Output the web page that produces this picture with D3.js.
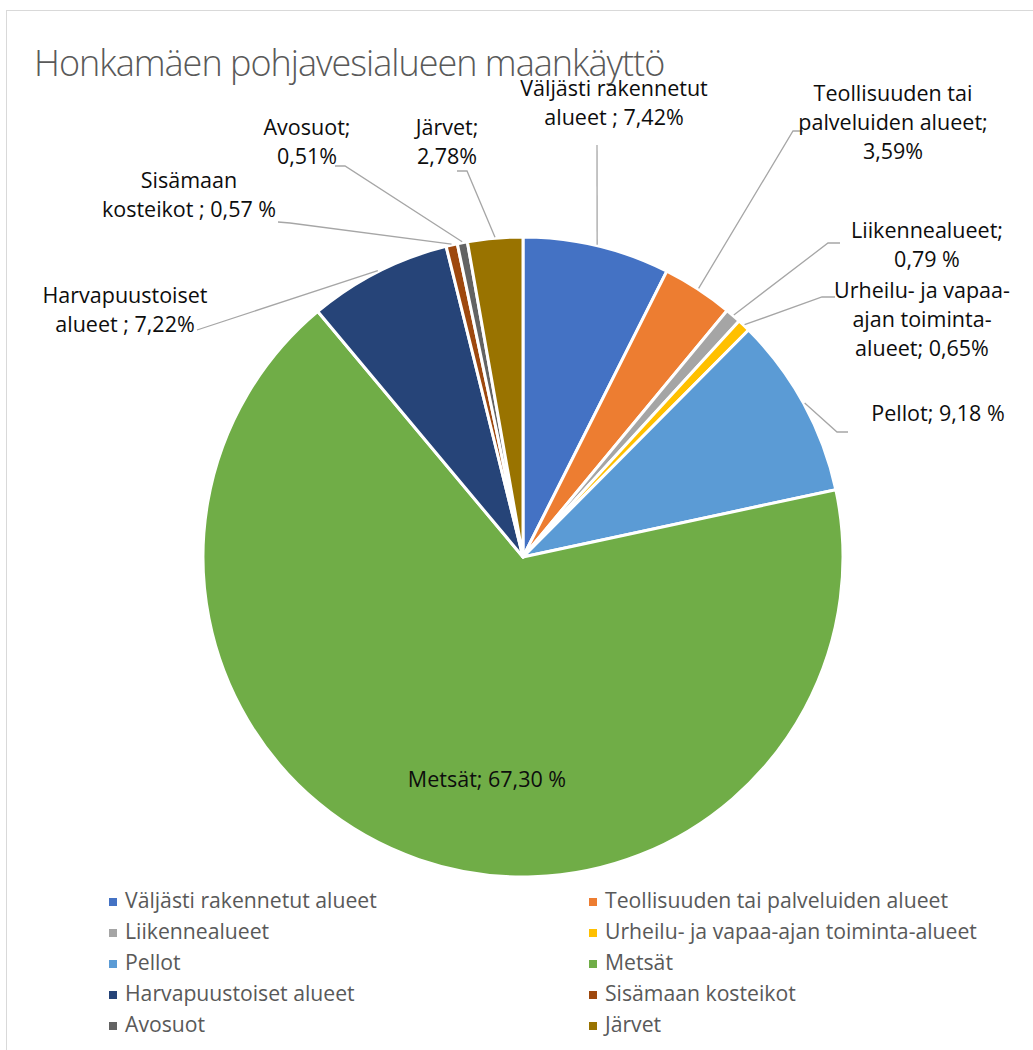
<!DOCTYPE html>
<html>
<head>
<meta charset="utf-8">
<script src="https://cdn.jsdelivr.net/npm/d3@7"></script>
<style>
  body { margin: 0; background: #fff; }
  svg { font-family: "Open Sans", "Noto Sans", sans-serif; }
</style>
</head>
<body>
<svg id="chart"></svg>
<script>
var width = 1033, height = 1050;

// data
var categories = ["Väljästi rakennetut alueet", "Teollisuuden tai palveluiden alueet", "Liikennealueet",
    "Urheilu- ja vapaa-ajan toiminta-alueet", "Pellot", "Metsät", "Harvapuustoiset alueet",
    "Sisämaan kosteikot", "Avosuot", "Järvet"];
var shares = [7.42, 3.59, 0.79, 0.65, 9.18, 67.30, 7.22, 0.57, 0.51, 2.78];
var labelLines = [
    ["Väljästi rakennetut", "alueet ; 7,42%"],
    ["Teollisuuden tai", "palveluiden alueet;", "3,59%"],
    ["Liikennealueet;", "0,79 %"],
    ["Urheilu- ja vapaa-", "ajan toiminta-", "alueet; 0,65%"],
    ["Pellot; 9,18 %"],
    ["Metsät; 67,30 %"],
    ["Harvapuustoiset", "alueet ; 7,22%"],
    ["Sisämaan", "kosteikot ; 0,57 %"],
    ["Avosuot;", "0,51%"],
    ["Järvet;", "2,78%"]
];
var colors = ["#4472C4", "#ED7D31", "#A5A5A5", "#FFC000", "#5B9BD5", "#70AD47", "#264478", "#9E480E", "#636363", "#997300"];

// label layout: centre x, first baseline y, leader start and elbow (no elbow = label inside the slice)
var labelPos = [
    { x: 614, y: 96, elbow: [597, 145] },
    { x: 893, y: 101, start: [803, 131], elbow: [793, 131] },
    { x: 927, y: 238, start: [840, 243], elbow: [828, 243] },
    { x: 922, y: 298, start: [835, 297], elbow: [822, 297] },
    { x: 938, y: 421, start: [848, 432], elbow: [837, 432] },
    { x: 487, y: 787 },
    { x: 125, y: 303, elbow: [197, 330] },
    { x: 189, y: 188, start: [278, 222], elbow: [290, 223] },
    { x: 307, y: 135, start: [335, 166], elbow: [345, 166] },
    { x: 447, y: 135, start: [457, 171], elbow: [467, 171] }
];

var svg = d3.select("#chart")
    .attr("width", width)
    .attr("height", height);

svg.append("rect")
    .attr("x", 6.5).attr("y", 10.5)
    .attr("width", 1040).attr("height", 1060)
    .attr("fill", "none")
    .attr("stroke", "#d9d9d9");

svg.append("text")
    .attr("x", 34).attr("y", 76)
    .style("font-size", "36px")
    .style("font-weight", 300)
    .style("letter-spacing", "-1px")
    .style("fill", "#595959")
    .text("Honkamäen pohjavesialueen maankäyttö");

var cx = 523, cy = 557, radius = 320;

var pie = d3.pie().sort(null).value(d => d)
    .startAngle(0).endAngle(2 * Math.PI);
var arcs = pie(shares);
var arc = d3.arc().innerRadius(0).outerRadius(radius);

var g = svg.append("g").attr("transform", `translate(${cx},${cy})`);

g.selectAll("path.slice")
    .data(arcs)
    .enter().append("path")
    .attr("class", "slice")
    .attr("d", arc)
    .attr("fill", (d, i) => colors[i])
    .attr("stroke", "#fff")
    .attr("stroke-width", 3)
    .attr("stroke-linejoin", "round");

// leader lines: from the label to the outer edge of the slice at its mid angle
arcs.forEach(function(d, i) {
    var p = labelPos[i];
    if (!p.elbow) return;
    var a = (d.startAngle + d.endAngle) / 2;
    var ex = cx + (radius + 1) * Math.sin(a), ey = cy - (radius + 1) * Math.cos(a);
    var pts = [];
    if (p.start) pts.push(p.start);
    pts.push(p.elbow);
    pts.push([ex, ey]);
    svg.append("path")
        .attr("d", d3.line()(pts))
        .attr("fill", "none")
        .attr("stroke", "#a6a6a6")
        .attr("stroke-width", 1.3);
});

// data labels
labelLines.forEach(function(lines, i) {
    var p = labelPos[i];
    var t = svg.append("text")
        .attr("text-anchor", "middle")
        .style("font-size", "21.5px")
        .style("fill", "#0d0d0d");
    lines.forEach(function(s, j) {
        t.append("tspan").attr("x", p.x).attr("y", p.y + j * 29).text(s);
    });
});

// legend
var legend = svg.append("g");
var item = legend.selectAll("g")
    .data(categories)
    .enter().append("g")
    .attr("transform", (d, i) => `translate(${i % 2 ? 589 : 109},${908 + Math.floor(i / 2) * 31})`);
item.append("rect")
    .attr("x", 0).attr("y", -10)
    .attr("width", 8).attr("height", 8)
    .attr("fill", (d, i) => colors[i]);
item.append("text")
    .attr("x", 16).attr("y", 0)
    .style("font-size", "21.2px")
    .style("fill", "#595959")
    .text(d => d);
</script>
</body>
</html>
